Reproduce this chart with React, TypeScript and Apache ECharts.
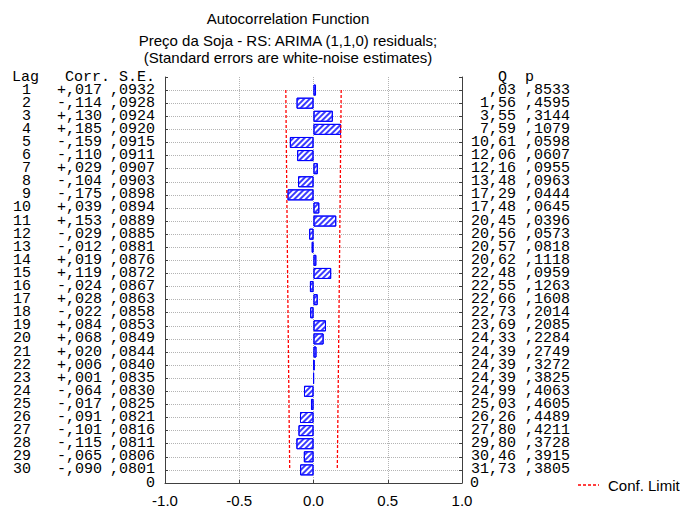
import React, { useEffect, useRef } from "react";
import * as echarts from "echarts";

const lags = [1, 2, 3, 4, 5, 6, 7, 8, 9, 10, 11, 12, 13, 14, 15, 16, 17, 18, 19, 20, 21, 22, 23, 24, 25, 26, 27, 28, 29, 30];
const corr = [0.017, -0.114, 0.13, 0.185, -0.159, -0.11, 0.029, -0.104, -0.175, 0.039, 0.153, -0.029, -0.012, 0.019, 0.119, -0.024, 0.028, -0.022, 0.084, 0.068, 0.02, 0.006, 0.001, -0.064, -0.017, -0.091, -0.101, -0.115, -0.065, -0.09];
const se = [0.0932, 0.0928, 0.0924, 0.092, 0.0915, 0.0911, 0.0907, 0.0903, 0.0898, 0.0894, 0.0889, 0.0885, 0.0881, 0.0876, 0.0872, 0.0867, 0.0863, 0.0858, 0.0853, 0.0849, 0.0844, 0.084, 0.0835, 0.083, 0.0825, 0.0821, 0.0816, 0.0811, 0.0806, 0.0801];
const qStat = [0.03, 1.56, 3.55, 7.59, 10.61, 12.06, 12.16, 13.48, 17.29, 17.48, 20.45, 20.56, 20.57, 20.62, 22.48, 22.55, 22.66, 22.73, 23.69, 24.33, 24.39, 24.39, 24.39, 24.99, 25.03, 26.26, 27.8, 29.8, 30.46, 31.73];
const pVal = [0.8533, 0.4595, 0.3144, 0.1079, 0.0598, 0.0607, 0.0955, 0.0963, 0.0444, 0.0645, 0.0396, 0.0573, 0.0818, 0.1118, 0.0959, 0.1263, 0.1608, 0.2014, 0.2085, 0.2284, 0.2749, 0.3272, 0.3825, 0.4063, 0.4605, 0.4489, 0.4211, 0.3728, 0.3915, 0.3805];
const xTicks = [-1, -0.5, 0, 0.5, 1];

const TITLE = "Autocorrelation Function";
const SUB1 = "Preço da Soja - RS: ARIMA (1,1,0) residuals;";
const SUB2 = "(Standard errors are white-noise estimates)";
const LEGEND = "Conf. Limit";

const MONO = "'Liberation Mono', 'Courier New', monospace";
const SANS = "'Liberation Sans', Arial, sans-serif";

const fmtCorr = (v: number) => (v >= 0 ? "+" : "-") + "," + Math.abs(v).toFixed(3).slice(2);
const fmtFrac4 = (v: number) => "," + v.toFixed(4).slice(2);
const fmtQ = (v: number) => {
  const s = v.toFixed(2).replace(".", ",");
  return s.startsWith("0,") ? s.slice(1) : s;
};

export default function App() {
  const ref = useRef<HTMLDivElement>(null);
  useEffect(() => {
    if (!ref.current) return;
    const chart = echarts.init(ref.current, undefined, { renderer: "svg" });
    const cats = ["Lag", ...lags.map(String), "0"];
    const last = cats.length - 1;
    const gridLine = () => ({ color: "#b4b4b4", type: [1, 1], width: 1 });
    const rowLabel = (arr: string[]) => (_v: any, i: number) => (i >= 1 && i <= lags.length ? arr[i - 1] : "");
    const baseY = {
      type: "category",
      data: cats,
      inverse: true,
      boundaryGap: false,
      gridIndex: 0,
    };
    const hiddenY = (position: string, offset: number, formatter: any, extra: any = {}) => ({
      ...baseY,
      position,
      offset,
      axisLine: { show: false },
      axisTick: { show: false },
      splitLine: { show: false },
      axisLabel: {
        interval: 0,
        margin: 0,
        formatter,
        fontFamily: MONO,
        fontSize: 15,
        lineHeight: 12,
        color: "#000",
        ...extra,
      },
    });
    const headerText = (text: string, x: number) => ({
      type: "text",
      x,
      y: 77,
      style: { text, fontFamily: MONO, fontSize: 15, lineHeight: 12, fill: "#000", textVerticalAlign: "middle" },
    });
    const titleText = (text: string, y: number) => ({
      type: "text",
      x: 288,
      y,
      style: { text, fontFamily: SANS, fontSize: 15, fill: "#000", textAlign: "center", textVerticalAlign: "middle" },
    });
    const lineData = (sign: number) => lags.map((_l, i) => [sign * 2 * se[i], i + 1]);
    const confStyle = { color: "#ff0000", width: 1.3, type: [3, 2] };
    chart.setOption({
      animation: false,
      aria: { enabled: true, decal: { show: true } },
      grid: { left: 165, right: 218, top: 77, bottom: 23, containLabel: false },
      xAxis: {
        type: "value",
        min: -1,
        max: 1,
        interval: 0.5,
        axisLine: { show: true, onZero: false, lineStyle: { color: "#404040" } },
        axisTick: { show: true, inside: true, length: 3, lineStyle: { color: "#404040" } },
        splitLine: { show: true, lineStyle: gridLine() },
        axisLabel: {
          margin: 10,
          fontFamily: SANS,
          fontSize: 15,
          color: "#000",
          formatter: (v: number) => (xTicks.includes(v) ? v.toFixed(1) : ""),
        },
      },
      yAxis: [
        {
          ...baseY,
          position: "left",
          axisLine: { show: true, onZero: false, lineStyle: { color: "#404040" } },
          axisTick: { show: true, inside: true, length: 3, interval: 0, lineStyle: { color: "#404040" } },
          splitLine: { show: true, interval: 0, showMinLine: false, lineStyle: gridLine() },
          axisLabel: {
            interval: 0,
            margin: 10,
            fontFamily: MONO,
            fontSize: 15,
            lineHeight: 12,
            color: "#000",
            formatter: (_v: any, i: number) => (i === last ? "0" : i >= 1 ? fmtFrac4(se[i - 1]) : ""),
          },
        },
        hiddenY("left", 63, rowLabel(corr.map(fmtCorr))),
        hiddenY("left", 134, rowLabel(lags.map(String))),
        {
          ...baseY,
          position: "right",
          axisLine: { show: true, onZero: false, lineStyle: { color: "#404040" } },
          axisTick: { show: true, inside: true, length: 3, interval: 0, lineStyle: { color: "#404040" } },
          splitLine: { show: false },
          axisLabel: {
            interval: 0,
            margin: 8,
            fontFamily: MONO,
            fontSize: 15,
            lineHeight: 12,
            color: "#000",
            formatter: (_v: any, i: number) => (i === last ? "0" : ""),
          },
        },
        hiddenY("right", 54, rowLabel(qStat.map(fmtQ)), { align: "right" }),
        hiddenY("right", 63, rowLabel(pVal.map(fmtFrac4)), { align: "left" }),
      ],
      graphic: [
        titleText(TITLE, 18),
        titleText(SUB1, 40),
        titleText(SUB2, 57),
        headerText("Lag", 12),
        headerText("Corr.", 65),
        headerText("S.E.", 119),
        headerText("Q", 498),
        headerText("p", 525),
        {
          type: "line",
          shape: { x1: 578, y1: 485, x2: 599, y2: 485 },
          style: { stroke: "#ff0000", lineWidth: 1.3, lineDash: [3, 2] },
        },
        {
          type: "text",
          x: 608,
          y: 485,
          style: { text: LEGEND, fontFamily: SANS, fontSize: 15, fill: "#000", textVerticalAlign: "middle" },
        },
      ],
      series: [
        {
          type: "bar",
          name: "ACF",
          yAxisIndex: 0,
          barWidth: 11,
          data: ["-", ...corr, "-"],
          itemStyle: {
            color: "#ffffff",
            borderColor: "#0000ff",
            borderWidth: 1,
            decal: {
              symbol: "rect",
              symbolSize: 1,
              color: "#3c3cff",
              dashArrayX: [1, 0],
              dashArrayY: [2, 2],
              rotation: -Math.PI / 4,
            },
          },
        },
        {
          type: "line",
          name: LEGEND,
          yAxisIndex: 0,
          symbol: "none",
          data: lineData(-1),
          lineStyle: confStyle,
        },
        {
          type: "line",
          name: LEGEND,
          yAxisIndex: 0,
          symbol: "none",
          data: lineData(1),
          lineStyle: confStyle,
        },
      ],
    });
    return () => chart.dispose();
  }, []);
  return <div ref={ref} style={{ position: "fixed", left: 0, top: 0, width: 680, height: 508, background: "#fff" }} />;
}
